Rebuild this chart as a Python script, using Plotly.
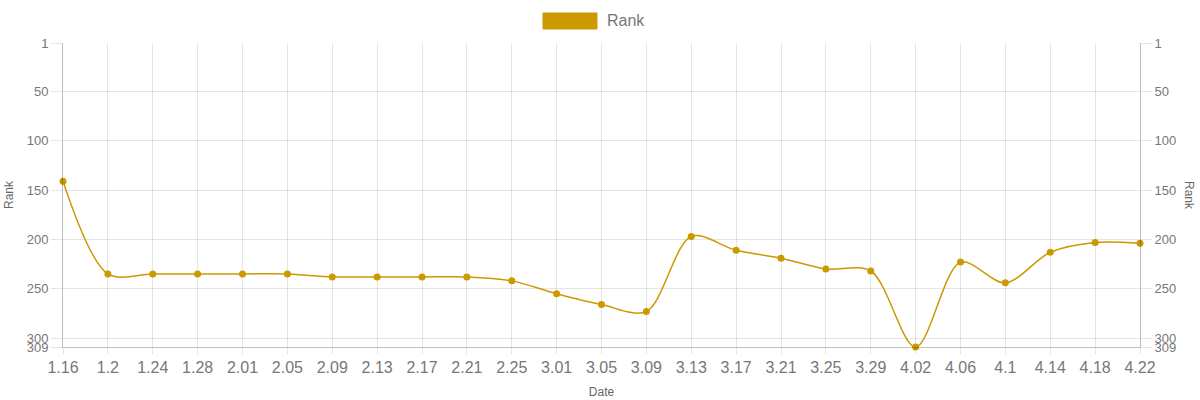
import plotly.graph_objects as go

dates = ["1.16", "1.2", "1.24", "1.28", "2.01", "2.05", "2.09", "2.13", "2.17", "2.21", "2.25",
         "3.01", "3.05", "3.09", "3.13", "3.17", "3.21", "3.25", "3.29", "4.02", "4.06", "4.1",
         "4.14", "4.18", "4.22"]
rank = [141, 235, 235, 235, 235, 235, 238, 238, 238, 238, 242,
        255, 266, 273, 197, 211, 219, 230, 232, 309, 223, 244,
        213, 203, 204]
y_ticks = [1, 50, 100, 150, 200, 250, 300, 309]

color = "#cc9900"
grid = "rgba(0,0,0,0.1)"
txt = "#666666"
tick_txt = "#777777"

fig = go.Figure()
fig.add_trace(go.Scatter(
    x=dates, y=rank, mode="lines+markers", name="Rank",
    line=dict(color=color, width=1.5, shape="spline", smoothing=0.9),
    marker=dict(color=color, size=7),
    showlegend=False, cliponaxis=False,
))
fig.add_trace(go.Scatter(
    x=dates, y=rank, yaxis="y2", mode="lines", opacity=0,
    showlegend=False, hoverinfo="skip",
))

yax = dict(
    range=[309, 1], tickmode="array", tickvals=y_ticks, ticktext=[str(v) for v in y_ticks],
    showgrid=True, gridcolor=grid, gridwidth=1, zeroline=False, automargin=False,
    ticks="outside", ticklen=11, tickcolor=grid,
    tickfont=dict(family="Liberation Sans, Arial", size=13, color=tick_txt),
    showline=True, linecolor="rgba(0,0,0,0.25)", linewidth=1,
)
fig.update_layout(
    width=1200, height=400,
    margin=dict(l=63, r=60, t=43, b=53),
    paper_bgcolor="white", plot_bgcolor="white",
    font=dict(family="Liberation Sans, Arial", color=txt),
    xaxis=dict(
        type="category", range=[0, len(dates) - 1], automargin=False,
        showgrid=True, gridcolor=grid, gridwidth=1, zeroline=False,
        ticks="outside", ticklen=6, tickcolor=grid,
        tickfont=dict(family="Liberation Sans, Arial", size=16, color=tick_txt),
        showline=True, linecolor="rgba(0,0,0,0.25)", linewidth=1,
        title=dict(text="Date", font=dict(size=12, color=txt), standoff=12),
    ),
    yaxis=yax,
    yaxis2=dict(yax, overlaying="y", side="right", showgrid=False),
    showlegend=False,
)
# Legend box + label
fig.add_shape(type="rect", xref="paper", yref="paper",
              x0=(543 - 63) / 1077, x1=(597 - 63) / 1077,
              y0=(347 - 29) / 304, y1=(347 - 13) / 304,
              fillcolor=color, line=dict(color=color, width=1))
fig.add_annotation(xref="paper", yref="paper", x=(605 - 63) / 1077, y=(347 - 20) / 304,
                   text="Rank", showarrow=False, xanchor="left", yanchor="middle",
                   font=dict(size=16, color=tick_txt))
# Axis titles
fig.add_annotation(xref="paper", yref="paper", x=(9 - 63) / 1077, y=0.5,
                   text="Rank", showarrow=False, textangle=-90, xanchor="center", yanchor="middle",
                   font=dict(size=12, color=txt))
fig.add_annotation(xref="paper", yref="paper", x=(1189 - 63) / 1077, y=0.5,
                   text="Rank", showarrow=False, textangle=90, xanchor="center", yanchor="middle",
                   font=dict(size=12, color=txt))

fig.write_html("out.html", config={"displayModeBar": False},
               post_script="document.body.style.margin='0';document.body.style.overflow='hidden';")
